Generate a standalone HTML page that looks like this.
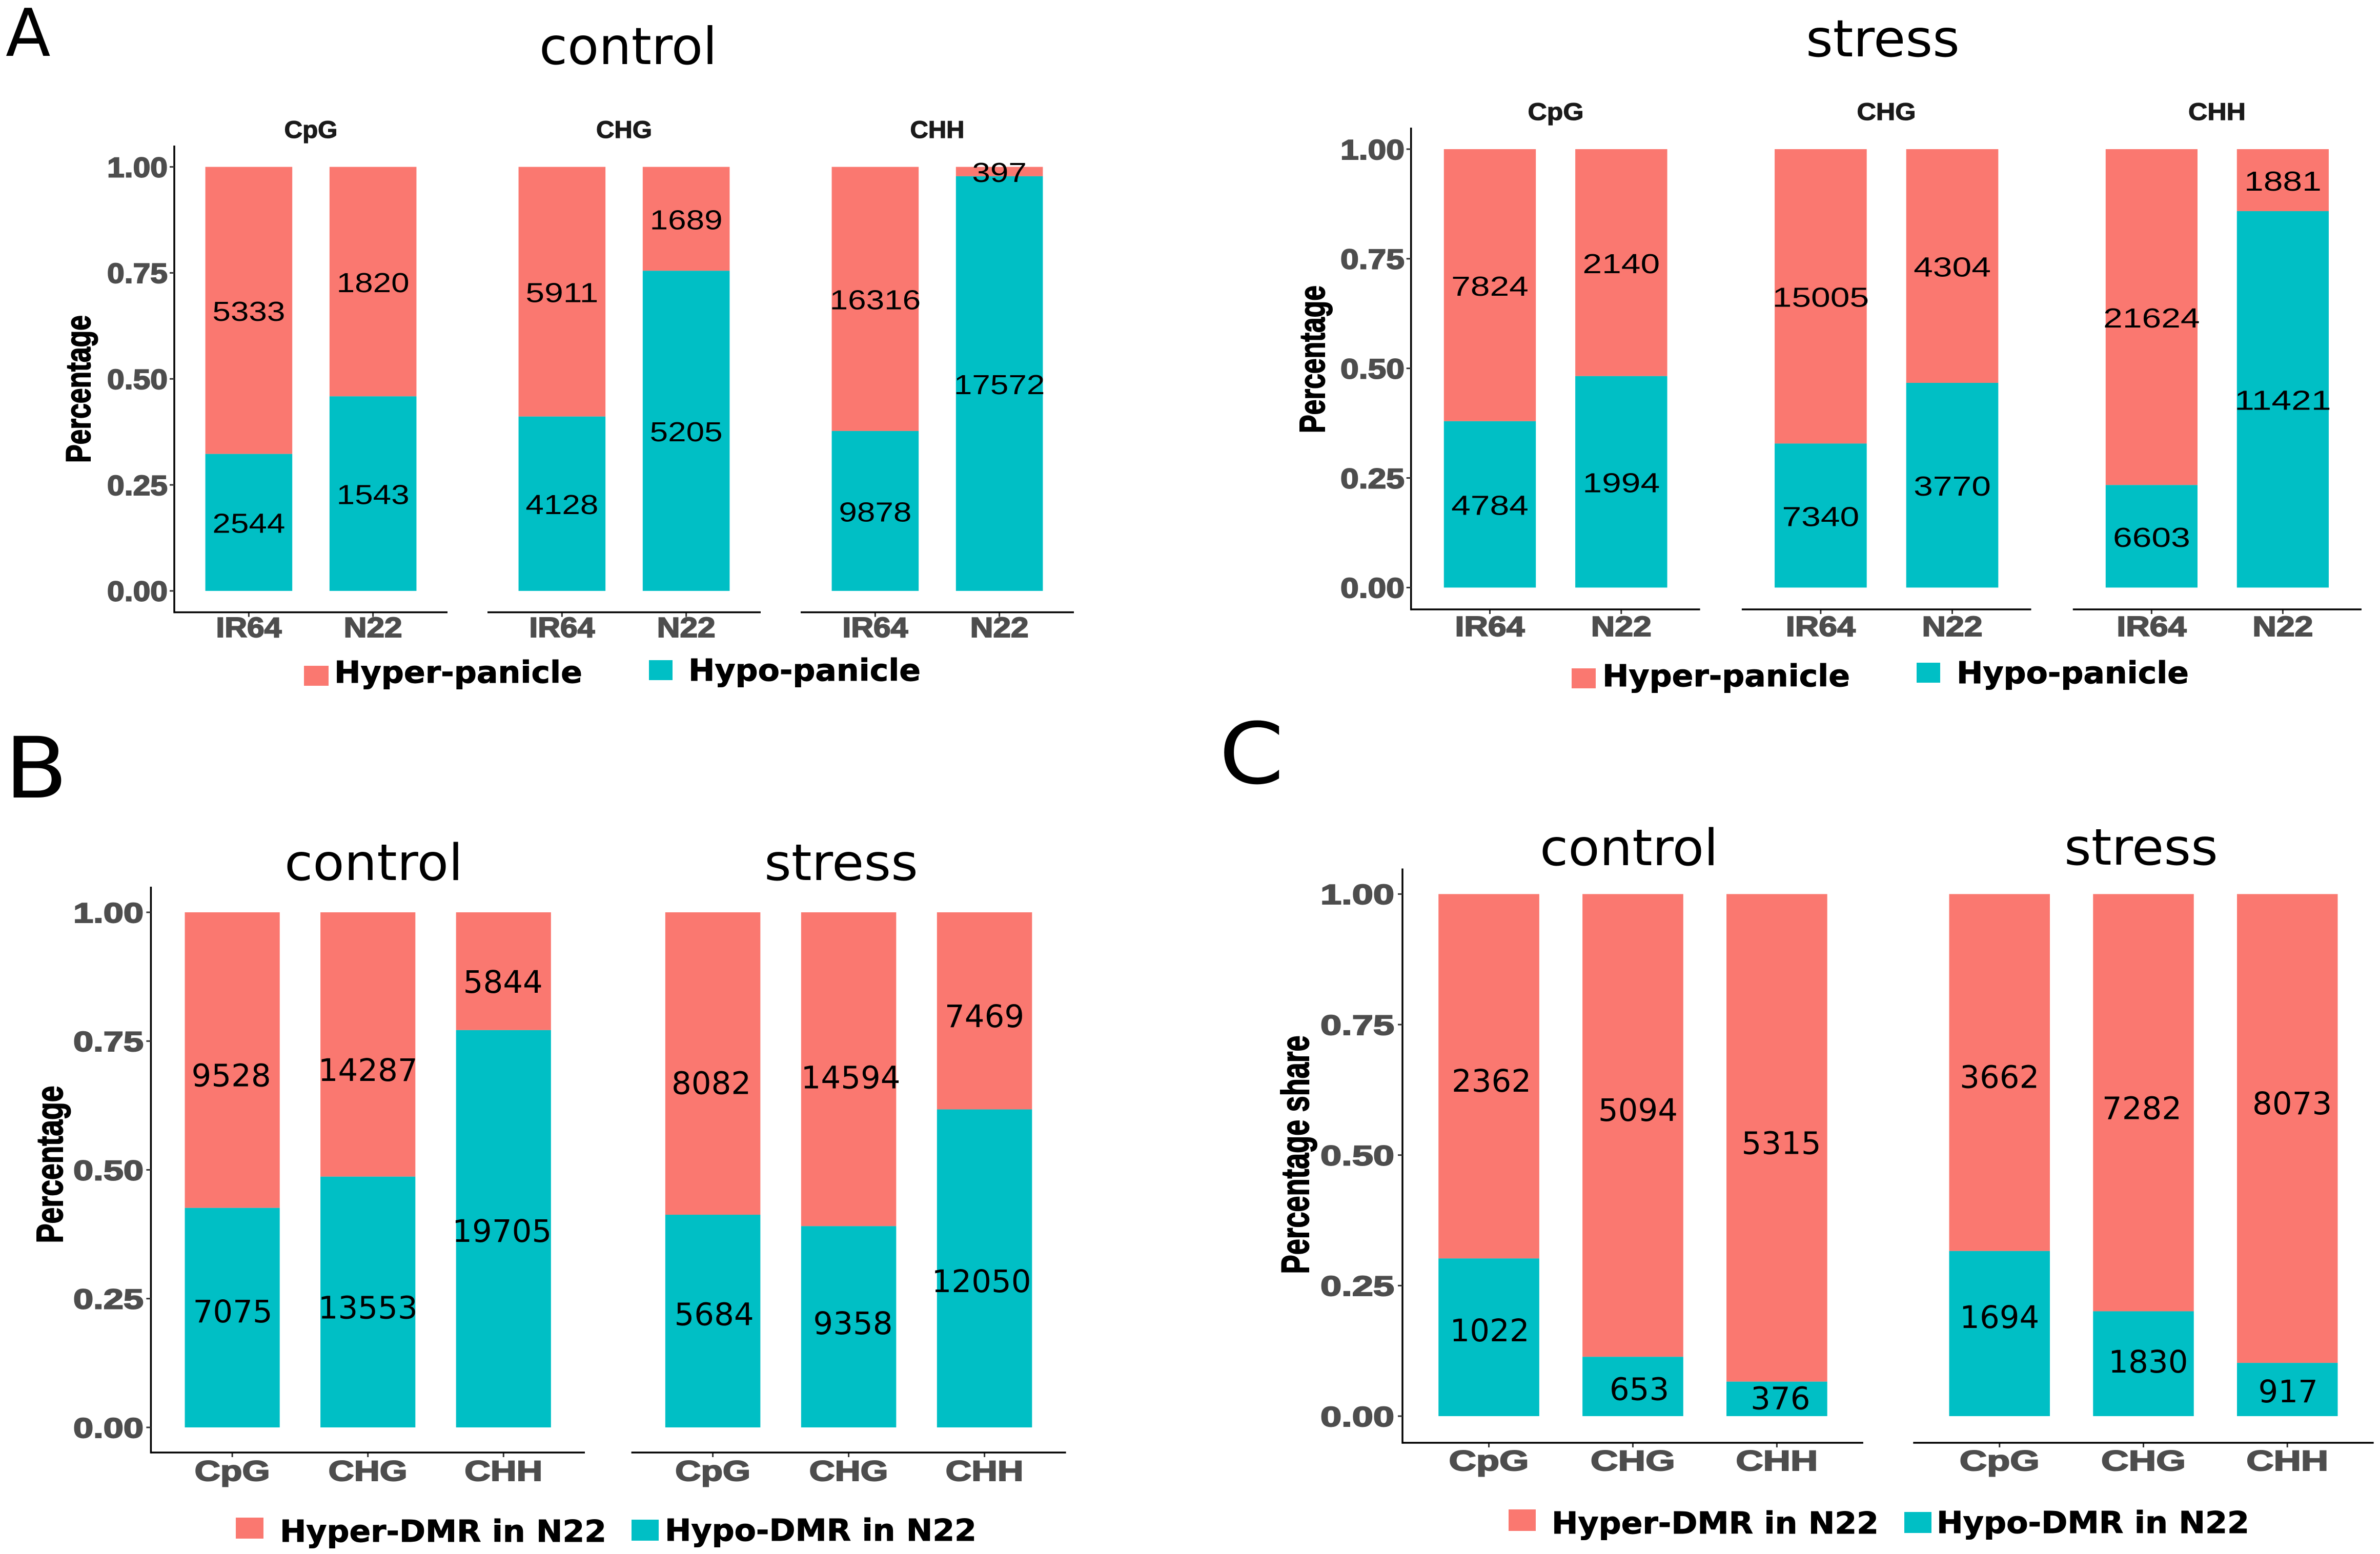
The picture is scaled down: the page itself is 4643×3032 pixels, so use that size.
<!DOCTYPE html>
<html lang="en">
<head>
<meta charset="utf-8">
<title>Hyper and hypo DMR percentage stacked bars</title>
<style>
html,body{margin:0;padding:0;background:#fff;}
svg{display:block;}
.dj{font-family:"DejaVu Sans",sans-serif;}
.lib{font-family:"Liberation Sans",sans-serif;}
.letter{font-size:165px;fill:#000;}
.title{font-size:98px;fill:#000;}
.strip{font-family:"Liberation Sans",sans-serif;font-weight:700;font-size:47px;fill:#1a1a1a;stroke:#1a1a1a;stroke-width:1.2px;text-anchor:middle;}
.ytitle{font-family:"Liberation Sans",sans-serif;font-weight:700;fill:#000;stroke:#000;stroke-width:2px;text-anchor:middle;}
.legend{font-family:"DejaVu Sans",sans-serif;font-weight:700;font-size:59px;fill:#000;stroke:#000;stroke-width:1px;}
</style>
</head>
<body>
<svg id="figure" xmlns="http://www.w3.org/2000/svg" width="4643" height="3032" viewBox="0 0 4643 3032">
  <rect x="0" y="0" width="4643" height="3032" fill="#ffffff"/>

  <text class="dj letter" x="11" y="109" style="font-size:128px">A</text>
  <text class="dj letter" x="9" y="1556" textLength="123" lengthAdjust="spacingAndGlyphs">B</text>
  <text class="dj letter" x="2378" y="1528" textLength="127" lengthAdjust="spacingAndGlyphs">C</text>

  <text class="dj title" x="1052" y="125" textLength="347" lengthAdjust="spacingAndGlyphs" style="font-size:100px">control</text>
  <text class="dj title" x="3523" y="110" textLength="300" lengthAdjust="spacingAndGlyphs" style="font-size:100px">stress</text>
  <text class="dj title" x="555" y="1717" textLength="348" lengthAdjust="spacingAndGlyphs">control</text>
  <text class="dj title" x="1491" y="1717" textLength="300" lengthAdjust="spacingAndGlyphs">stress</text>
  <text class="dj title" x="3004" y="1688" textLength="348" lengthAdjust="spacingAndGlyphs">control</text>
  <text class="dj title" x="4027" y="1687" textLength="300" lengthAdjust="spacingAndGlyphs">stress</text>

  <text class="strip" x="606.5" y="269" textLength="104" lengthAdjust="spacingAndGlyphs">CpG</text>
  <text class="strip" x="1217.5" y="269" textLength="109" lengthAdjust="spacingAndGlyphs">CHG</text>
  <text class="strip" x="1828.5" y="269" textLength="106" lengthAdjust="spacingAndGlyphs">CHH</text>
  <text class="strip" x="3035" y="234" textLength="109" lengthAdjust="spacingAndGlyphs">CpG</text>
  <text class="strip" x="3680" y="234" textLength="115" lengthAdjust="spacingAndGlyphs">CHG</text>
  <text class="strip" x="4325" y="234" textLength="112" lengthAdjust="spacingAndGlyphs">CHH</text>

  <text class="ytitle" style="font-size:68px" transform="translate(176,759) rotate(-90)" textLength="288" lengthAdjust="spacingAndGlyphs">Percentage</text>
  <text class="ytitle" style="font-size:70px" transform="translate(2584,701) rotate(-90)" textLength="288" lengthAdjust="spacingAndGlyphs">Percentage</text>
  <text class="ytitle" style="font-size:72px" transform="translate(122,2272) rotate(-90)" textLength="307" lengthAdjust="spacingAndGlyphs">Percentage</text>
  <text class="ytitle" style="font-size:76px" transform="translate(2553,2253) rotate(-90)" textLength="465" lengthAdjust="spacingAndGlyphs">Percentage share</text>

  <g>
    <rect x="593" y="1299" width="48" height="39" fill="#FA7870"/>
    <text class="legend" x="652" y="1332" textLength="484" lengthAdjust="spacingAndGlyphs">Hyper-panicle</text>
    <rect x="1266" y="1288" width="46" height="39" fill="#00BFC5"/>
    <text class="legend" x="1343" y="1328" textLength="453" lengthAdjust="spacingAndGlyphs">Hypo-panicle</text>
  </g>
  <g>
    <rect x="3066" y="1304" width="47" height="39" fill="#FA7870"/>
    <text class="legend" x="3126" y="1339" textLength="483" lengthAdjust="spacingAndGlyphs">Hyper-panicle</text>
    <rect x="3739" y="1293" width="46" height="39" fill="#00BFC5"/>
    <text class="legend" x="3817" y="1333" textLength="453" lengthAdjust="spacingAndGlyphs">Hypo-panicle</text>
  </g>
  <g>
    <rect x="460" y="2961" width="54" height="41" fill="#FA7870"/>
    <text class="legend" x="546" y="3008" textLength="637" lengthAdjust="spacingAndGlyphs">Hyper-DMR in N22</text>
    <rect x="1232" y="2965" width="53" height="41" fill="#00BFC5"/>
    <text class="legend" x="1297" y="3006" textLength="608" lengthAdjust="spacingAndGlyphs">Hypo-DMR in N22</text>
  </g>
  <g>
    <rect x="2943" y="2945" width="53" height="42" fill="#FA7870"/>
    <text class="legend" x="3027" y="2992" textLength="638" lengthAdjust="spacingAndGlyphs">Hyper-DMR in N22</text>
    <rect x="3715" y="2950" width="53" height="41" fill="#00BFC5"/>
    <text class="legend" x="3778" y="2991" textLength="610" lengthAdjust="spacingAndGlyphs">Hypo-DMR in N22</text>
  </g>
  <g id="plots"></g>
</svg>
<script>
// ---- chart data ----
const sampleCategories = ["IR64", "N22"];
const contextCategories = ["CpG", "CHG", "CHH"];
const yTickValues = [0, 0.25, 0.5, 0.75, 1];
const yTickLabels = ["0.00", "0.25", "0.50", "0.75", "1.00"];

const aControlHyper = [5333, 1820, 5911, 1689, 16316, 397];
const aControlHypo = [2544, 1543, 4128, 5205, 9878, 17572];
const aStressHyper = [7824, 2140, 15005, 4304, 21624, 1881];
const aStressHypo = [4784, 1994, 7340, 3770, 6603, 11421];
const bControlHyper = [9528, 14287, 5844];
const bControlHypo = [7075, 13553, 19705];
const bStressHyper = [8082, 14594, 7469];
const bStressHypo = [5684, 9358, 12050];
const cControlHyper = [2362, 5094, 5315];
const cControlHypo = [1022, 653, 376];
const cStressHyper = [3662, 7282, 8073];
const cStressHypo = [1694, 1830, 917];

const HYPER_COLOR = "#FA7870";
const HYPO_COLOR = "#00BFC5";
const NS = "http://www.w3.org/2000/svg";

// ---- layout of each plot ----
const plotLayouts = [
  { id: "a-control", hyper: aControlHyper, hypo: aControlHypo, cats: sampleCategories,
    facets: [[340, 873], [951, 1484], [1562, 2095]],
    y0: 1152.9, y1: 325.6, top: 284, bottom: 1194.6,
    tickRight: 327, tickW: 118, tickFs: 55, xBase: 1243, xFs: 55, xW: { IR64: 128, N22: 114 },
    valFont: "Liberation Sans", valFs: 54, digitW: 35.5 },
  { id: "a-stress", hyper: aStressHyper, hypo: aStressHypo, cats: sampleCategories,
    facets: [[2752.7, 3316.6], [3397.9, 3962.5], [4043.8, 4607]],
    y0: 1146.4, y1: 291, top: 249, bottom: 1189,
    tickRight: 2740, tickW: 125, tickFs: 55, xBase: 1241, xFs: 55, xW: { IR64: 136, N22: 118 },
    valFont: "Liberation Sans", valFs: 54, digitW: 37.7 },
  { id: "b-control", hyper: bControlHyper, hypo: bControlHypo, cats: contextCategories,
    facets: [[294.4, 1141]],
    y0: 2785, y1: 1780, top: 1730, bottom: 2834,
    tickRight: 280, tickW: 137, tickFs: 55, xBase: 2889, xFs: 56, xW: { CpG: 147, CHG: 154, CHH: 152 },
    valFont: "DejaVu Sans", valFs: 61, digitW: 38.8,
    hypoNudge: [[1, -13], [0, 10], [-3, 3.5]], hyperNudge: [[-2, 29], [0, 49], [-1, 20]] },
  { id: "b-stress", hyper: bStressHyper, hypo: bStressHypo, cats: contextCategories,
    facets: [[1231.6, 2079.6]],
    y0: 2785, y1: 1780, top: 1730, bottom: 2834,
    xBase: 2889, xFs: 56, xW: { CpG: 147, CHG: 154, CHH: 152 },
    valFont: "DejaVu Sans", valFs: 61, digitW: 38.8,
    hypoNudge: [[2.5, -14.5], [8.4, -8], [-6, 24]], hyperNudge: [[-3, 37], [4, 15], [0, 9.4]] },
  { id: "c-control", hyper: cControlHyper, hypo: cControlHypo, cats: contextCategories,
    facets: [[2736, 3634.9]],
    y0: 2763, y1: 1744.4, top: 1694.5, bottom: 2815,
    tickRight: 2720, tickW: 144, tickFs: 55, xBase: 2869, xFs: 56, xW: { CpG: 156, CHG: 165, CHH: 160 },
    valFont: "DejaVu Sans", valFs: 61, digitW: 38.8,
    hypoNudge: [[1.5, -14.5], [12.6, 4], [7, -2]], hyperNudge: [[5, 7.6], [10, -31], [8.7, 9]] },
  { id: "c-stress", hyper: cStressHyper, hypo: cStressHypo, cats: contextCategories,
    facets: [[3732.3, 4630.7]],
    y0: 2763, y1: 1744.4, top: 1694.5, bottom: 2815,
    xBase: 2869, xFs: 56, xW: { CpG: 156, CHG: 165, CHH: 160 },
    valFont: "DejaVu Sans", valFs: 61, digitW: 38.8,
    hypoNudge: [[0, -33], [9.4, -5], [1.5, 2.5]], hyperNudge: [[0, 7.4], [-3, 10], [9.4, -50]] }
];

// ---- axis functions ----
function yScale(p, v) { return p.y0 - (p.y0 - p.y1) * v; }
function bandUnit(facet, n) { return (facet[1] - facet[0]) / (n + 0.2); }
function xScale(facet, i, n) { return facet[0] + (i + 0.6) * bandUnit(facet, n); }

function makeEl(tag, attrs) {
  const el = document.createElementNS(NS, tag);
  for (const k in attrs) el.setAttribute(k, attrs[k]);
  return el;
}
function makeText(str, x, y, fs, family, weight, fill, width) {
  const t = makeEl("text", {
    x: x, y: y, "font-size": fs, "font-family": '"' + family + '", sans-serif',
    "font-weight": weight, fill: fill, "text-anchor": "middle"
  });
  if (width) {
    t.setAttribute("textLength", width);
    t.setAttribute("lengthAdjust", "spacingAndGlyphs");
  }
  t.textContent = str;
  return t;
}

const plotsRoot = document.getElementById("plots");

plotLayouts.forEach(function (p) {
  const g = makeEl("g", {});
  
  
  plotsRoot.appendChild(g);

  const n = p.cats.length;

  p.facets.forEach(function (facet, fi) {
    const u = bandUnit(facet, n);
    const barW = 0.7 * u;

    p.cats.forEach(function (cat, ci) {
      const idx = fi * n + ci;
      const hyper = p.hyper[idx];
      const hypo = p.hypo[idx];
      const share = hypo / (hyper + hypo);
      const cx = xScale(facet, ci, n);

      const hyperBar = makeEl("rect", {
        x: cx - barW / 2, y: yScale(p, 1), width: barW,
        height: yScale(p, share) - yScale(p, 1), fill: HYPER_COLOR
      });
      
      
      g.appendChild(hyperBar);

      const hypoBar = makeEl("rect", {
        x: cx - barW / 2, y: yScale(p, share), width: barW,
        height: yScale(p, 0) - yScale(p, share), fill: HYPO_COLOR
      });
      
      
      g.appendChild(hypoBar);

      const capRatio = p.valFont === "DejaVu Sans" ? 0.365 : 0.35;
      const hyperN = p.hyperNudge ? p.hyperNudge[idx] : [0, 1.5];
      const hypoN = p.hypoNudge ? p.hypoNudge[idx] : [0, 1.5];

      const hyperLabel = makeText(String(hyper), cx + hyperN[0],
        yScale(p, (1 + share) / 2) + hyperN[1] + capRatio * p.valFs,
        p.valFs, p.valFont, 400, "#000", p.digitW * String(hyper).length);
      
      
      g.appendChild(hyperLabel);

      const hypoLabel = makeText(String(hypo), cx + hypoN[0],
        yScale(p, share / 2) + hypoN[1] + capRatio * p.valFs,
        p.valFs, p.valFont, 400, "#000", p.digitW * String(hypo).length);
      
      
      g.appendChild(hypoLabel);

      const xTick = makeEl("line", {
        x1: cx, x2: cx, y1: p.bottom, y2: p.bottom + 9, stroke: "#333", "stroke-width": 3
      });
      
      
      g.appendChild(xTick);

      const xLabel = makeText(cat, cx, p.xBase, p.xFs, "Liberation Sans", 700, "#4d4d4d", p.xW[cat]);
      
      
      xLabel.setAttribute('stroke', '#4d4d4d');
      xLabel.setAttribute('stroke-width', '2');
      g.appendChild(xLabel);
    });

    const xAxis = makeEl("line", {
      x1: facet[0], x2: facet[1], y1: p.bottom, y2: p.bottom, stroke: "#000", "stroke-width": 3.5
    });
    
    
    g.appendChild(xAxis);
  });

  if (p.tickRight) {
    const ax = p.facets[0][0];
    const yAxis = makeEl("line", {
      x1: ax, x2: ax, y1: p.top, y2: p.bottom + 1.75, stroke: "#000", "stroke-width": 3.5
    });
    
    
    g.appendChild(yAxis);

    yTickValues.forEach(function (v, i) {
      const ty = yScale(p, v);
      const tick = makeEl("line", {
        x1: ax - 9, x2: ax, y1: ty, y2: ty, stroke: "#333", "stroke-width": 3
      });
      
      
      g.appendChild(tick);

      const label = makeText(yTickLabels[i], p.tickRight - p.tickW / 2, ty + 0.36 * p.tickFs,
        p.tickFs, "Liberation Sans", 700, "#4d4d4d", p.tickW);
      
      
      label.setAttribute('stroke', '#4d4d4d');
      label.setAttribute('stroke-width', '2');
      g.appendChild(label);
    });
  }
});
</script>
</body>
</html>
